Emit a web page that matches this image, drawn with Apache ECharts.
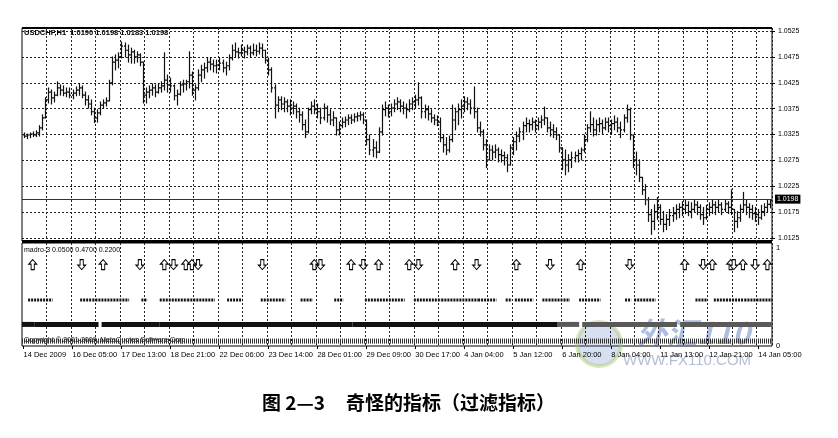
<!DOCTYPE html>
<html><head><meta charset="utf-8">
<script src="https://cdn.jsdelivr.net/npm/echarts@6/dist/echarts.min.js"></script>
<style>html,body{margin:0;padding:0;background:#fff}#c{width:838px;height:438px}</style>
</head><body><div id="c"></div>
<script>
const symbolTitle = 'USDCHF,H1';
const lastBarOHLC = [1.0190, 1.0198, 1.0183, 1.0198];
const bidPrice = 1.0198;
const priceTicks = [1.0125,1.0175,1.0225,1.0275,1.0325,1.0375,1.0425,1.0475,1.0525];
const timeLabels = ['14 Dec 2009','16 Dec 05:00','17 Dec 13:00','18 Dec 21:00','22 Dec 06:00','23 Dec 14:00',
  '28 Dec 01:00','29 Dec 09:00','30 Dec 17:00','4 Jan 04:00','5 Jan 12:00','6 Jan 20:00','8 Jan 04:00',
  '11 Jan 13:00','12 Jan 21:00','14 Jan 05:00'];

const open = [
1.0324,1.0322,1.0324,1.0326,1.0324,1.0328,1.0338,1.0357,1.0392,1.0407,
1.0396,1.0401,1.0415,1.0411,1.0405,1.0407,1.0401,1.0405,1.0411,1.0415,
1.0401,1.0392,1.0384,1.0369,1.0357,1.0367,1.0382,1.0386,1.0390,1.0425,
1.0465,1.0469,1.0475,1.0496,1.0488,1.0479,1.0485,1.0475,1.0479,1.0465,
1.0401,1.0407,1.0411,1.0415,1.0407,1.0415,1.0419,1.0430,1.0421,1.0419,
1.0400,1.0403,1.0421,1.0423,1.0427,1.0440,1.0411,1.0415,1.0440,1.0450,
1.0454,1.0465,1.0461,1.0458,1.0459,1.0463,1.0454,1.0458,1.0473,1.0488,
1.0485,1.0483,1.0488,1.0485,1.0492,1.0483,1.0488,1.0486,1.0492,1.0488,
1.0469,1.0450,1.0415,1.0382,1.0392,1.0384,1.0388,1.0380,1.0376,1.0380,
1.0369,1.0363,1.0344,1.0330,1.0373,1.0380,1.0373,1.0369,1.0357,1.0376,
1.0363,1.0353,1.0357,1.0334,1.0342,1.0349,1.0353,1.0357,1.0353,1.0359,
1.0361,1.0363,1.0353,1.0315,1.0295,1.0299,1.0291,1.0330,1.0373,1.0376,
1.0369,1.0376,1.0384,1.0388,1.0380,1.0376,1.0373,1.0384,1.0388,1.0392,
1.0396,1.0369,1.0373,1.0365,1.0357,1.0353,1.0349,1.0319,1.0305,1.0295,
1.0315,1.0353,1.0369,1.0373,1.0380,1.0388,1.0384,1.0376,1.0369,1.0338,
1.0330,1.0305,1.0276,1.0295,1.0291,1.0295,1.0286,1.0284,1.0280,1.0266,
1.0299,1.0311,1.0322,1.0330,1.0342,1.0346,1.0344,1.0349,1.0342,1.0349,
1.0353,1.0357,1.0338,1.0334,1.0330,1.0324,1.0299,1.0276,1.0266,1.0276,
1.0280,1.0284,1.0288,1.0295,1.0315,1.0338,1.0344,1.0334,1.0344,1.0346,
1.0338,1.0349,1.0342,1.0346,1.0349,1.0338,1.0334,1.0357,1.0373,1.0324,
1.0276,1.0266,1.0242,1.0218,1.0199,1.0170,1.0157,1.0176,1.0184,1.0161,
1.0151,1.0161,1.0168,1.0172,1.0180,1.0184,1.0180,1.0188,1.0176,1.0180,
1.0189,1.0184,1.0170,1.0164,1.0180,1.0184,1.0189,1.0184,1.0189,1.0180,
1.0191,1.0184,1.0180,1.0157,1.0164,1.0180,1.0189,1.0184,1.0180,1.0172,
1.0170,1.0164,1.0176,1.0184,1.0190];

const high = [
1.0328,1.0326,1.0328,1.0330,1.0332,1.0342,1.0363,1.0396,1.0415,1.0411,
1.0407,1.0427,1.0421,1.0419,1.0415,1.0415,1.0411,1.0417,1.0423,1.0419,
1.0407,1.0400,1.0392,1.0376,1.0373,1.0388,1.0392,1.0396,1.0430,1.0475,
1.0479,1.0483,1.0504,1.0502,1.0498,1.0492,1.0488,1.0485,1.0481,1.0465,
1.0415,1.0419,1.0423,1.0421,1.0423,1.0427,1.0483,1.0440,1.0434,1.0421,
1.0411,1.0427,1.0430,1.0430,1.0485,1.0446,1.0421,1.0450,1.0459,1.0463,
1.0473,1.0473,1.0469,1.0469,1.0473,1.0469,1.0465,1.0479,1.0498,1.0502,
1.0492,1.0498,1.0494,1.0498,1.0496,1.0500,1.0498,1.0502,1.0500,1.0488,
1.0473,1.0454,1.0421,1.0398,1.0398,1.0396,1.0392,1.0392,1.0388,1.0384,
1.0376,1.0369,1.0353,1.0376,1.0388,1.0392,1.0384,1.0376,1.0384,1.0380,
1.0373,1.0369,1.0357,1.0349,1.0357,1.0359,1.0363,1.0363,1.0365,1.0367,
1.0369,1.0367,1.0353,1.0324,1.0315,1.0311,1.0338,1.0382,1.0388,1.0382,
1.0384,1.0392,1.0396,1.0392,1.0388,1.0384,1.0392,1.0396,1.0401,1.0425,
1.0398,1.0382,1.0380,1.0373,1.0363,1.0361,1.0357,1.0324,1.0319,1.0322,
1.0382,1.0376,1.0384,1.0392,1.0398,1.0396,1.0392,1.0417,1.0376,1.0349,
1.0334,1.0315,1.0305,1.0303,1.0305,1.0299,1.0295,1.0291,1.0286,1.0305,
1.0319,1.0330,1.0338,1.0349,1.0357,1.0353,1.0357,1.0353,1.0357,1.0361,
1.0378,1.0357,1.0349,1.0344,1.0338,1.0324,1.0299,1.0295,1.0286,1.0291,
1.0291,1.0295,1.0299,1.0324,1.0344,1.0369,1.0357,1.0353,1.0357,1.0353,
1.0357,1.0357,1.0353,1.0361,1.0357,1.0349,1.0363,1.0382,1.0376,1.0324,
1.0291,1.0276,1.0242,1.0228,1.0203,1.0180,1.0189,1.0203,1.0189,1.0176,
1.0170,1.0180,1.0184,1.0189,1.0191,1.0195,1.0199,1.0195,1.0193,1.0199,
1.0195,1.0189,1.0184,1.0188,1.0193,1.0199,1.0195,1.0199,1.0193,1.0199,
1.0195,1.0218,1.0180,1.0176,1.0189,1.0213,1.0199,1.0191,1.0188,1.0184,
1.0180,1.0188,1.0191,1.0199,1.0198];

const low = [
1.0319,1.0317,1.0319,1.0321,1.0321,1.0322,1.0334,1.0357,1.0386,1.0384,
1.0388,1.0400,1.0401,1.0400,1.0398,1.0396,1.0394,1.0400,1.0401,1.0396,
1.0382,1.0376,1.0363,1.0348,1.0349,1.0363,1.0376,1.0380,1.0390,1.0421,
1.0450,1.0454,1.0473,1.0475,1.0465,1.0463,1.0463,1.0465,1.0458,1.0386,
1.0386,1.0396,1.0401,1.0398,1.0405,1.0407,1.0411,1.0407,1.0407,1.0392,
1.0382,1.0401,1.0407,1.0411,1.0415,1.0401,1.0392,1.0411,1.0427,1.0434,
1.0446,1.0450,1.0446,1.0444,1.0450,1.0446,1.0440,1.0450,1.0469,1.0475,
1.0473,1.0477,1.0473,1.0479,1.0475,1.0479,1.0477,1.0481,1.0475,1.0463,
1.0440,1.0407,1.0357,1.0369,1.0373,1.0369,1.0369,1.0363,1.0365,1.0357,
1.0349,1.0334,1.0319,1.0328,1.0365,1.0365,1.0357,1.0346,1.0353,1.0349,
1.0344,1.0342,1.0324,1.0324,1.0338,1.0340,1.0344,1.0346,1.0349,1.0351,
1.0353,1.0346,1.0305,1.0286,1.0282,1.0280,1.0290,1.0324,1.0361,1.0359,
1.0361,1.0369,1.0373,1.0369,1.0365,1.0357,1.0369,1.0373,1.0376,1.0382,
1.0357,1.0357,1.0353,1.0349,1.0344,1.0342,1.0311,1.0291,1.0286,1.0291,
1.0311,1.0334,1.0344,1.0357,1.0369,1.0373,1.0365,1.0357,1.0330,1.0322,
1.0295,1.0261,1.0276,1.0276,1.0280,1.0272,1.0272,1.0266,1.0253,1.0266,
1.0286,1.0295,1.0311,1.0315,1.0330,1.0330,1.0334,1.0330,1.0334,1.0338,
1.0344,1.0330,1.0322,1.0319,1.0315,1.0291,1.0257,1.0247,1.0253,1.0261,
1.0272,1.0272,1.0276,1.0291,1.0311,1.0330,1.0322,1.0324,1.0330,1.0326,
1.0334,1.0330,1.0326,1.0334,1.0330,1.0319,1.0330,1.0349,1.0315,1.0261,
1.0247,1.0234,1.0209,1.0189,1.0157,1.0132,1.0141,1.0161,1.0151,1.0137,
1.0141,1.0149,1.0157,1.0161,1.0164,1.0168,1.0172,1.0168,1.0164,1.0176,
1.0170,1.0161,1.0151,1.0161,1.0168,1.0172,1.0170,1.0176,1.0170,1.0176,
1.0172,1.0170,1.0137,1.0145,1.0157,1.0176,1.0170,1.0164,1.0161,1.0157,
1.0151,1.0161,1.0168,1.0176,1.0183];

const close = [
1.0322,1.0324,1.0326,1.0324,1.0328,1.0338,1.0357,1.0392,1.0407,1.0396,
1.0401,1.0415,1.0411,1.0405,1.0407,1.0401,1.0405,1.0411,1.0415,1.0401,
1.0392,1.0384,1.0369,1.0357,1.0367,1.0382,1.0386,1.0390,1.0425,1.0465,
1.0469,1.0475,1.0496,1.0488,1.0479,1.0485,1.0475,1.0479,1.0465,1.0401,
1.0407,1.0411,1.0415,1.0407,1.0415,1.0419,1.0430,1.0421,1.0419,1.0400,
1.0403,1.0421,1.0423,1.0427,1.0440,1.0411,1.0415,1.0440,1.0450,1.0454,
1.0465,1.0461,1.0458,1.0459,1.0463,1.0454,1.0458,1.0473,1.0488,1.0485,
1.0483,1.0488,1.0485,1.0492,1.0483,1.0488,1.0486,1.0492,1.0488,1.0469,
1.0450,1.0415,1.0382,1.0392,1.0384,1.0388,1.0380,1.0376,1.0380,1.0369,
1.0363,1.0344,1.0330,1.0373,1.0380,1.0373,1.0369,1.0357,1.0376,1.0363,
1.0353,1.0357,1.0334,1.0342,1.0349,1.0353,1.0357,1.0353,1.0359,1.0361,
1.0363,1.0353,1.0315,1.0295,1.0299,1.0291,1.0330,1.0373,1.0376,1.0369,
1.0376,1.0384,1.0388,1.0380,1.0376,1.0373,1.0384,1.0388,1.0392,1.0396,
1.0369,1.0373,1.0365,1.0357,1.0353,1.0349,1.0319,1.0305,1.0295,1.0315,
1.0353,1.0369,1.0373,1.0380,1.0388,1.0384,1.0376,1.0369,1.0338,1.0330,
1.0305,1.0276,1.0295,1.0291,1.0295,1.0286,1.0284,1.0280,1.0266,1.0299,
1.0311,1.0322,1.0330,1.0342,1.0346,1.0344,1.0349,1.0342,1.0349,1.0353,
1.0357,1.0338,1.0334,1.0330,1.0324,1.0299,1.0276,1.0266,1.0276,1.0280,
1.0284,1.0288,1.0295,1.0315,1.0338,1.0344,1.0334,1.0344,1.0346,1.0338,
1.0349,1.0342,1.0346,1.0349,1.0338,1.0334,1.0357,1.0373,1.0324,1.0276,
1.0266,1.0242,1.0218,1.0199,1.0170,1.0157,1.0176,1.0184,1.0161,1.0151,
1.0161,1.0168,1.0172,1.0180,1.0184,1.0180,1.0188,1.0176,1.0180,1.0189,
1.0184,1.0170,1.0164,1.0180,1.0184,1.0189,1.0184,1.0189,1.0180,1.0191,
1.0184,1.0180,1.0157,1.0164,1.0180,1.0189,1.0184,1.0180,1.0172,1.0170,
1.0164,1.0176,1.0184,1.0190,1.0198];

// indicator "madro-3" (levels 0.05 / 0.47 / 0.22)
const indicatorName = 'madro-3';
const indicatorLevels = [0.0500, 0.4700, 0.2200];
const arrowLevel = 0.83;
const arrowUp = [3, 26, 46, 53, 55, 95, 107, 116, 126, 141, 161, 182, 216, 225, 231, 235, 243];
const arrowDown = [19, 38, 49, 57, 78, 97, 111, 129, 148, 172, 198, 222, 232, 239];
const midSegments = [[2,9],[19,22],[23,34],[39,40],[45,53],[54,62],[67,71],[78,85],[91,94],[102,104],
  [112,124],[128,136],[137,148],[149,154],[158,159],[161,166],[170,171],[172,178],[182,188],[197,198],
  [200,206],[220,223],[226,229],[230,235],[236,244]];
const lowSegmentsDark = [[0,3],[4,24],[26,44],[45,107],[108,174]];
const lowSegmentsLight = [[175,181],[183,213],[215,244]];
const baseSegments = [[0,244]];
const indicatorTicks = [0, 1];

const categories = open.map((_, i) => i);
const LABEL_EVERY = 16, GRID_EVERY = 8;

const chart = echarts.init(document.getElementById('c'));
const FONT = '"Liberation Sans", Arial, sans-serif';

function segSeries(segs, level, width, color, dash) {
  return {
    type: 'custom', xAxisIndex: 1, yAxisIndex: 1, silent: true, animation: false,
    data: segs.map(s => [s[0], s[1], level]),
    encode: { x: [0, 1], y: 2 },
    renderItem(params, api) {
      const a = api.coord([api.value(0), api.value(2)]);
      const b = api.coord([api.value(1), api.value(2)]);
      const bw = api.size([1, 0])[0];
      return { type: 'line', shape: { x1: a[0] - bw / 2, y1: a[1], x2: b[0] + bw / 2, y2: b[1] },
        style: { stroke: color, lineWidth: width, lineDash: dash || null } };
    }
  };
}

const upPath = 'path://M4,0 L8,4.5 L5.6,4.5 L5.6,10 L2.4,10 L2.4,4.5 L0,4.5 Z';
const downPath = 'path://M4,10 L8,5.5 L5.6,5.5 L5.6,0 L2.4,0 L2.4,5.5 L0,5.5 Z';

const option = {
  animation: false,
  textStyle: { fontFamily: FONT },
  grid: [
    { left: 22, top: 28, width: 750, height: 213, show: true, borderColor: '#000', borderWidth: 1 },
    { left: 22, top: 243, width: 750, height: 103, show: true, borderColor: '#000', borderWidth: 1 }
  ],
  xAxis: [
    { type: 'category', gridIndex: 0, data: categories, boundaryGap: true,
      axisLine: { show: false }, axisTick: { show: false }, axisLabel: { show: false },
      splitLine: { show: true, interval: (i) => i > 0 && i % GRID_EVERY === 0,
        lineStyle: { color: '#222', width: 1, type: [2, 2] } } },
    { type: 'category', gridIndex: 1, data: categories, boundaryGap: true,
      axisLine: { show: false },
      axisTick: { show: true, alignWithLabel: true, length: 3, interval: (i) => i % LABEL_EVERY === 0,
        lineStyle: { color: '#000' } },
      axisLabel: { show: true, interval: (i) => i % LABEL_EVERY === 0, align: 'left', margin: 5,
        fontSize: 7.5, color: '#000', fontFamily: FONT,
        formatter: (v, i) => timeLabels[Math.round(i / LABEL_EVERY)] || '' },
      splitLine: { show: true, interval: (i) => i > 0 && i % GRID_EVERY === 0,
        lineStyle: { color: '#222', width: 1, type: [2, 2] } } }
  ],
  yAxis: [
    { type: 'value', gridIndex: 0, position: 'right', min: 1.0119, max: 1.0531, scale: true,
      axisLine: { show: false },
      axisTick: { show: true, customValues: priceTicks, length: 3, lineStyle: { color: '#000' } },
      axisLabel: { customValues: priceTicks, formatter: v => v.toFixed(4), fontSize: 7, color: '#000',
        margin: 6, fontFamily: FONT },
      splitLine: { show: true, lineStyle: { color: '#222', width: 1, type: [2, 2] } } },
    { type: 'value', gridIndex: 1, position: 'right', min: 0, max: 1.05,
      axisLine: { show: false },
      axisTick: { show: false, customValues: indicatorTicks },
      axisLabel: { customValues: indicatorTicks, fontSize: 7.5, color: '#000', margin: 4, fontFamily: FONT },
      splitLine: { show: false } }
  ],
  series: [
    {
      type: 'custom', name: symbolTitle, xAxisIndex: 0, yAxisIndex: 0, silent: true,
      data: open.map((o, i) => [i, o, high[i], low[i], close[i]]),
      encode: { x: 0, y: [1, 2, 3, 4] },
      renderItem(params, api) {
        const i = api.value(0);
        const o = api.coord([i, api.value(1)]);
        const h = api.coord([i, api.value(2)]);
        const l = api.coord([i, api.value(3)]);
        const c = api.coord([i, api.value(4)]);
        const x = Math.round(h[0]) + 0.5;
        const st = { stroke: '#111', lineWidth: 1.2 };
        return { type: 'group', children: [
          { type: 'line', shape: { x1: x, y1: h[1] - 0.5, x2: x, y2: l[1] + 0.5 }, style: st },
          { type: 'line', shape: { x1: x - 1.5, y1: o[1], x2: x, y2: o[1] }, style: st },
          { type: 'line', shape: { x1: x, y1: c[1], x2: x + 1.5, y2: c[1] }, style: st }
        ] };
      },
      markLine: {
        silent: true, symbol: 'none', animation: false,
        lineStyle: { color: '#333', width: 1, type: 'solid' },
        label: { show: true, position: 'end', formatter: bidPrice.toFixed(4), color: '#fff',
          backgroundColor: '#000', fontSize: 7, padding: [1, 2, 1, 2], distance: 3, fontFamily: FONT },
        data: [{ yAxis: bidPrice }]
      }
    },
    segSeries(baseSegments, indicatorLevels[0], 5, '#333', [1, 1]),
    segSeries(midSegments, indicatorLevels[1], 3, '#111', [2, 1]),
    segSeries(lowSegmentsDark, indicatorLevels[2], 5, '#111'),
    segSeries(lowSegmentsLight, indicatorLevels[2], 5, '#5a5a5a'),
    { type: 'scatter', xAxisIndex: 1, yAxisIndex: 1, silent: true, symbol: upPath, symbolSize: [8, 10],
      itemStyle: { color: '#fff', borderColor: '#000', borderWidth: 1, opacity: 1 },
      data: arrowUp.map(i => [i, arrowLevel]) },
    { type: 'scatter', xAxisIndex: 1, yAxisIndex: 1, silent: true, symbol: downPath, symbolSize: [8, 10],
      itemStyle: { color: '#fff', borderColor: '#000', borderWidth: 1, opacity: 1 },
      data: arrowDown.map(i => [i, arrowLevel]) }
  ],
  graphic: [
    { type: 'line', shape: { x1: 22, y1: 28, x2: 772, y2: 28 }, style: { stroke: '#000', lineWidth: 2 }, silent: true },
    { type: 'rect', shape: { x: 22, y: 240, width: 750, height: 3 }, style: { fill: '#000' }, silent: true },
    { type: 'text', left: 24, top: 29, silent: true,
      style: { text: symbolTitle + '  ' + lastBarOHLC.map(v => v.toFixed(4)).join(' '),
        font: 'bold 7.5px "Liberation Sans", Arial', fill: '#000' } },
    { type: 'text', left: 24, top: 247, silent: true,
      style: { text: indicatorName + ' ' + indicatorLevels.map(v => v.toFixed(4)).join(' '),
        font: '7px "Liberation Sans", Arial', fill: '#000' } },
    { type: 'text', left: 24, top: 337, silent: true,
      style: { text: 'Copyright \u00a9 2001-2009, MetaQuotes Software Corp.',
        font: '7px "Liberation Sans", Arial', fill: '#111' } },
    // watermark
    { type: 'circle', shape: { cx: 599, cy: 344, r: 22 }, silent: true,
      style: { fill: 'rgba(90,130,200,0.25)', stroke: 'rgba(170,200,110,0.45)', lineWidth: 4 } },
    { type: 'text', left: 637, top: 318, silent: true,
      style: { text: '外汇110', font: 'italic bold 30px "Noto Sans CJK SC"', fill: 'rgba(70,110,190,0.45)' } },
    { type: 'text', left: 623, top: 353, silent: true,
      style: { text: 'WWW.FX110.COM', font: '15px "Liberation Sans", Arial', fill: '#b4c0d4' } },
    // caption
    { type: 'text', left: 262, top: 393, silent: true,
      style: { text: '图 2—3', font: 'bold 19px "Noto Sans CJK SC"', fill: '#000' } },
    { type: 'text', left: 346, top: 393, silent: true,
      style: { text: '奇怪的指标（过滤指标）', font: 'bold 19px "Noto Sans CJK SC"', fill: '#000' } }
  ]
};
chart.setOption(option);
</script>
</body></html>
